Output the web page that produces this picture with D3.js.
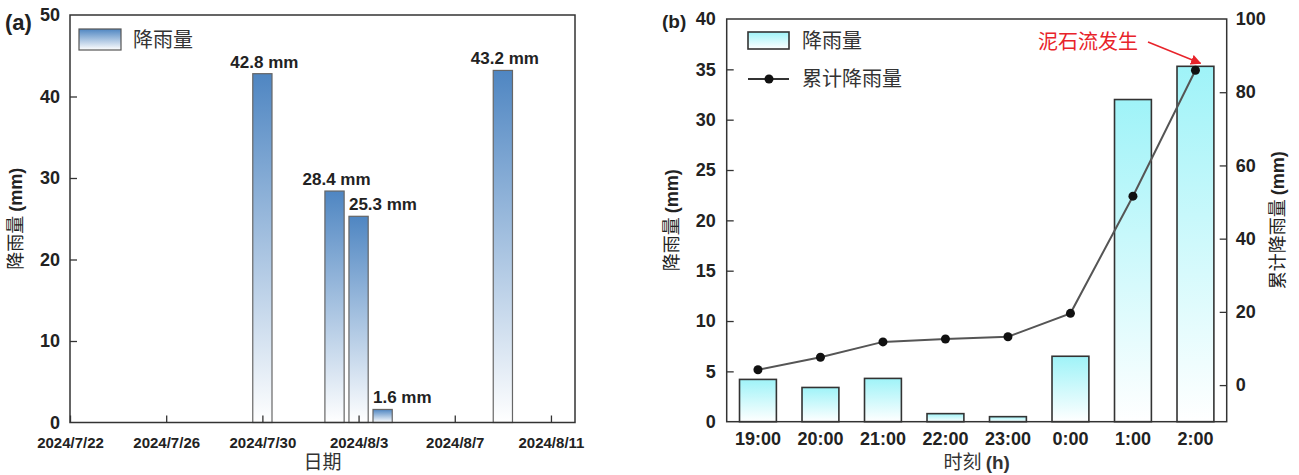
<!DOCTYPE html>
<html><head><meta charset="utf-8">
<script src="https://cdn.jsdelivr.net/npm/d3@7"></script>
<style>body{margin:0;background:#fff} text{-webkit-font-smoothing:antialiased}</style></head>
<body>
<svg id="c" width="1299" height="475"></svg>
<script>
// ---------- data ----------
const dailyDates = ["2024-07-30","2024-08-02","2024-08-03","2024-08-04","2024-08-09"];
const dailyRain = [42.8, 28.4, 25.3, 1.6, 43.2];
const dailyLabels = ["42.8 mm","28.4 mm","25.3 mm","1.6 mm","43.2 mm"];
const dateTicks = ["2024-07-22","2024-07-26","2024-07-30","2024-08-03","2024-08-07","2024-08-11"];
const leftYTicks = [0,10,20,30,40,50];

const hours = ["19:00","20:00","21:00","22:00","23:00","0:00","1:00","2:00"];
const hourlyRain = [4.2, 3.4, 4.3, 0.8, 0.5, 6.5, 32.0, 35.3];
const cumRain = [4.2, 7.6, 11.8, 12.6, 13.2, 19.6, 51.6, 86.0];
const rightYTicks = [0,5,10,15,20,25,30,35,40];
const cumTicks = [0,20,40,60,80,100];

// label alignment style for panel (a)
const labelAnchor = ["middle","middle","start","start","middle"];

const svg = d3.select("#c");
const NUM = "'Liberation Sans', Arial, sans-serif";
const CJK = "'Noto Sans CJK SC', sans-serif";
const AX = "#333";

const defs = svg.append("defs");
const g1 = defs.append("linearGradient").attr("id","gBlue").attr("x1",0).attr("y1",0).attr("x2",0).attr("y2",1);
g1.append("stop").attr("offset","0%").attr("stop-color","#4f86c2");
g1.append("stop").attr("offset","100%").attr("stop-color","#ffffff");
const g2 = defs.append("linearGradient").attr("id","gCyan").attr("x1",0).attr("y1",0).attr("x2",0).attr("y2",1);
g2.append("stop").attr("offset","0%").attr("stop-color","#9ff3f8");
g2.append("stop").attr("offset","100%").attr("stop-color","#ffffff");
defs.append("marker").attr("id","arr").attr("viewBox","0 0 10 10").attr("refX",9).attr("refY",5)
  .attr("markerWidth",7).attr("markerHeight",7).attr("orient","auto")
  .append("path").attr("d","M0,0 L10,5 L0,10 z").attr("fill","#e8232a");

function styleAxis(g, size){
  g.select(".domain").remove();
  g.selectAll(".tick line").attr("stroke",AX).attr("stroke-width",1.3);
  g.selectAll(".tick text").attr("font-family",NUM).attr("font-weight","bold")
    .attr("font-size",size).attr("fill","#222");
}

// ---------- panel (a) ----------
const A = {l:70, r:575, t:15, b:422.5};
const parse = d3.timeParse("%Y-%m-%d");
const xA = d3.scaleTime().domain([parse("2024-07-22"), parse("2024-08-12")]).range([A.l, A.r]);
const yA = d3.scaleLinear().domain([0,50]).range([A.b, A.t]);
const day = 86400000;
const pa = svg.append("g");

pa.selectAll("rect.bar").data(dailyRain).enter().append("rect")
  .attr("x",(d,i)=>xA(new Date(+parse(dailyDates[i]) - 0.4*day)))
  .attr("width",(d,i)=>xA(new Date(+parse(dailyDates[i]) + 0.4*day)) - xA(new Date(+parse(dailyDates[i]) - 0.4*day)))
  .attr("y",d=>yA(d)).attr("height",d=>yA(0)-yA(d))
  .attr("fill","url(#gBlue)").attr("stroke","#666").attr("stroke-width",1.2);

pa.selectAll("text.lab").data(dailyRain).enter().append("text")
  .attr("x",(d,i)=> labelAnchor[i]==="start" ? xA(new Date(+parse(dailyDates[i]) - 0.4*day)) : xA(parse(dailyDates[i]))+2)
  .attr("y",d=>yA(d)-6).attr("text-anchor",(d,i)=>labelAnchor[i])
  .attr("font-family",NUM).attr("font-weight","bold").attr("font-size",17).attr("fill","#222")
  .text((d,i)=>dailyLabels[i]);

const axAx = pa.append("g").attr("transform",`translate(0,${A.b})`)
  .call(d3.axisBottom(xA).tickValues(dateTicks.map(parse)).tickFormat(d3.timeFormat("%Y/%-m/%-d"))
  .tickSizeInner(-7).tickSizeOuter(0).tickPadding(15));
styleAxis(axAx, 15);
const ayAx = pa.append("g").attr("transform",`translate(${A.l},0)`)
  .call(d3.axisLeft(yA).tickValues(leftYTicks).tickSizeInner(-7).tickSizeOuter(0).tickPadding(10));
styleAxis(ayAx, 18);
ayAx.selectAll(".tick").filter(d=>d===0||d===50).select("line").remove();
pa.append("rect").attr("x",A.l).attr("y",A.t).attr("width",A.r-A.l).attr("height",A.b-A.t)
  .attr("fill","none").attr("stroke",AX).attr("stroke-width",1.5);

pa.append("rect").attr("x",79).attr("y",29).attr("width",42).attr("height",21)
  .attr("fill","url(#gBlue)").attr("stroke","#555").attr("stroke-width",1.2);
pa.append("text").attr("x",133).attr("y",47).attr("font-family",CJK).attr("font-size",20).attr("fill","#333").text("降雨量");
pa.append("text").attr("x",5).attr("y",30).attr("font-family",NUM).attr("font-weight","bold").attr("font-size",22).attr("fill","#222").text("(a)");
pa.append("text").attr("x",(A.l+A.r)/2).attr("y",469).attr("text-anchor","middle")
  .attr("font-family",CJK).attr("font-size",19).attr("fill","#333").text("日期");
const tA = pa.append("text").attr("transform",`translate(22,${(A.t+A.b)/2}) rotate(-90)`).attr("text-anchor","middle")
  .attr("font-size",18).attr("fill","#222");
tA.append("tspan").attr("font-family",CJK).text("降雨量 ");
tA.append("tspan").attr("font-family",NUM).attr("font-weight","bold").text("(mm)");

// ---------- panel (b) ----------
const B = {l:726.7, r:1226.7, t:19, b:421.7};
const xB = d3.scaleBand().domain(hours).range([B.l, B.r]).paddingInner(0.41).paddingOuter(0.205);
const yB = d3.scaleLinear().domain([0,40]).range([B.b, B.t]);
const yC = d3.scaleLinear().domain([-10,100]).range([B.b, B.t]);
const pb = svg.append("g");

pb.selectAll("rect.bar").data(hourlyRain).enter().append("rect")
  .attr("x",(d,i)=>xB(hours[i])).attr("width",xB.bandwidth())
  .attr("y",d=>yB(d)).attr("height",d=>yB(0)-yB(d))
  .attr("fill","url(#gCyan)").attr("stroke","#333").attr("stroke-width",1.6);

const line = d3.line().x((d,i)=>xB(hours[i])+xB.bandwidth()/2).y(d=>yC(d));
pb.append("path").datum(cumRain).attr("d",line).attr("fill","none").attr("stroke","#555").attr("stroke-width",2);
pb.selectAll("circle.pt").data(cumRain).enter().append("circle")
  .attr("cx",(d,i)=>xB(hours[i])+xB.bandwidth()/2).attr("cy",d=>yC(d)).attr("r",4.5).attr("fill","#111");

const bxAx = pb.append("g").attr("transform",`translate(0,${B.b})`)
  .call(d3.axisBottom(xB).tickSize(0).tickPadding(11));
styleAxis(bxAx, 18);
const byAx = pb.append("g").attr("transform",`translate(${B.l},0)`)
  .call(d3.axisLeft(yB).tickValues(rightYTicks).tickSizeInner(-7).tickSizeOuter(0).tickPadding(11));
styleAxis(byAx, 18);
byAx.selectAll(".tick").filter(d=>d===0||d===40).select("line").remove();
const bcAx = pb.append("g").attr("transform",`translate(${B.r},0)`)
  .call(d3.axisRight(yC).tickValues(cumTicks).tickSizeInner(-7).tickSizeOuter(0).tickPadding(9));
styleAxis(bcAx, 18);
bcAx.selectAll(".tick").filter(d=>d===100).select("line").remove();
pb.append("rect").attr("x",B.l).attr("y",B.t).attr("width",B.r-B.l).attr("height",B.b-B.t)
  .attr("fill","none").attr("stroke",AX).attr("stroke-width",1.5);

// legend
pb.append("rect").attr("x",748).attr("y",32).attr("width",41).attr("height",17)
  .attr("fill","url(#gCyan)").attr("stroke","#333").attr("stroke-width",1.6);
pb.append("text").attr("x",802).attr("y",48).attr("font-family",CJK).attr("font-size",20).attr("fill","#333").text("降雨量");
pb.append("line").attr("x1",748).attr("x2",789).attr("y1",79).attr("y2",79).attr("stroke","#333").attr("stroke-width",2);
pb.append("circle").attr("cx",769).attr("cy",79).attr("r",4.5).attr("fill","#111");
pb.append("text").attr("x",802).attr("y",86).attr("font-family",CJK).attr("font-size",20).attr("fill","#333").text("累计降雨量");

pb.append("text").attr("x",662).attr("y",28).attr("font-family",NUM).attr("font-weight","bold").attr("font-size",19).attr("fill","#222").text("(b)");

// annotation
pb.append("text").attr("x",1038).attr("y",49).attr("font-family",CJK).attr("font-size",20).attr("fill","#e8232a").text("泥石流发生");
pb.append("line").attr("x1",1148).attr("y1",42).attr("x2",xB("2:00")+xB.bandwidth()/2+5).attr("y2",yB(hourlyRain[7])-3)
  .attr("stroke","#e8232a").attr("stroke-width",1.5).attr("marker-end","url(#arr)");

// axis titles
const tx = pb.append("text").attr("x",(B.l+B.r)/2).attr("y",469).attr("text-anchor","middle").attr("font-size",19).attr("fill","#333");
tx.append("tspan").attr("font-family",CJK).text("时刻 ");
tx.append("tspan").attr("font-family",NUM).attr("font-weight","bold").text("(h)");
const tyB = pb.append("text").attr("transform",`translate(678,${(B.t+B.b)/2}) rotate(-90)`).attr("text-anchor","middle").attr("font-size",18).attr("fill","#222");
tyB.append("tspan").attr("font-family",CJK).text("降雨量 ");
tyB.append("tspan").attr("font-family",NUM).attr("font-weight","bold").text("(mm)");
const tyC = pb.append("text").attr("transform",`translate(1284,${(B.t+B.b)/2}) rotate(-90)`).attr("text-anchor","middle").attr("font-size",18).attr("fill","#222");
tyC.append("tspan").attr("font-family",CJK).text("累计降雨量 ");
tyC.append("tspan").attr("font-family",NUM).attr("font-weight","bold").text("(mm)");
</script>
</body></html>
